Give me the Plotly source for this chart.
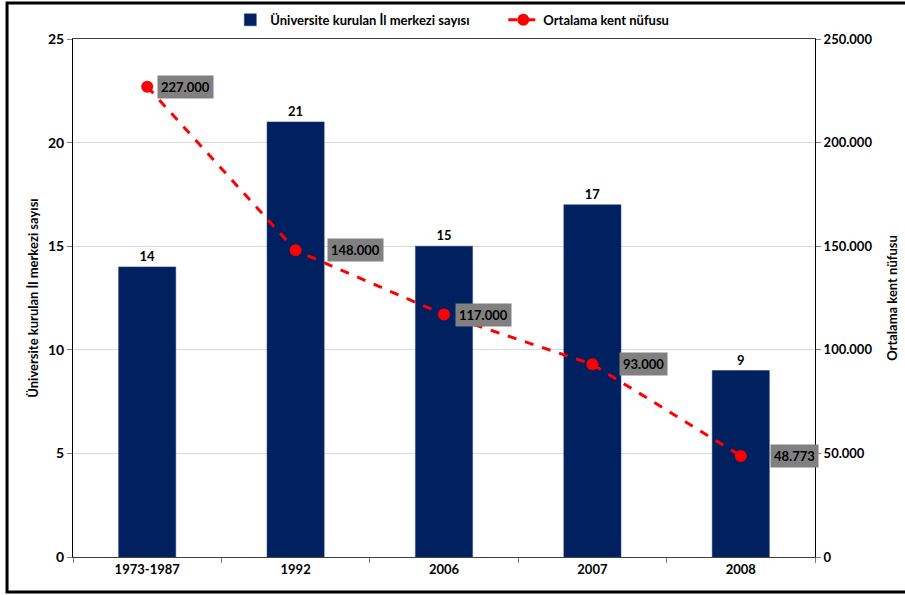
import plotly.graph_objects as go

categories = ["1973-1987", "1992", "2006", "2007", "2008"]
universite_sayisi = [14, 21, 15, 17, 9]
kent_nufusu = [227000, 148000, 117000, 93000, 48773]
kent_labels = ["227.000", "148.000", "117.000", "93.000", "48.773"]

label_shifts = [10, 31, 11, 27, 29]  # pixel offsets of the grey label boxes

FONT = "Lato, 'Open Sans', sans-serif"

fig = go.Figure()
fig.add_trace(go.Bar(
    x=categories, y=universite_sayisi,
    name="Üniversite kurulan İl merkezi sayısı",
    marker=dict(color="#002060", line=dict(color="#1f3a78", width=0.5)),
    text=[f"<b>{v}</b>" for v in universite_sayisi],
    textposition="outside", cliponaxis=False,
    textfont=dict(size=13, color="black", family=FONT),
    yaxis="y",
))
fig.add_trace(go.Scatter(
    x=categories, y=kent_nufusu,
    name="Ortalama kent nüfusu",
    mode="lines+markers",
    line=dict(color="#FF0000", width=3, dash="dash"),
    marker=dict(color="#FF0000", size=12),
    yaxis="y2",
))

for i, (v, t) in enumerate(zip(kent_nufusu, kent_labels)):
    fig.add_annotation(
        x=i, y=v, xref="x", yref="y2", text=f"<b>{t}</b>", showarrow=False,
        xanchor="left", yanchor="middle", xshift=label_shifts[i],
        bgcolor="#808080", borderpad=3,
        font=dict(size=13, color="black", family=FONT),
    )

# outer frame
fig.add_shape(type="rect", xref="paper", yref="paper",
              x0=-0.0889, x1=1.13, y0=-0.0676, y1=1.0695,
              line=dict(color="black", width=3), fillcolor="rgba(0,0,0,0)",
              layer="below")

fig.update_layout(
    width=905, height=595,
    margin=dict(l=73, r=90, t=39, b=38, autoexpand=False),
    paper_bgcolor="white", plot_bgcolor="white",
    separators=",.",
    font=dict(family=FONT, size=13, color="black", weight="bold"),
    bargap=0.615,
    showlegend=True,
    legend=dict(orientation="h", x=0.212, xanchor="left", y=1.008, yanchor="bottom",
                entrywidth=228, entrywidthmode="pixels",
                font=dict(size=13, family=FONT, weight="bold"),
                bgcolor="rgba(0,0,0,0)", traceorder="normal"),
    xaxis=dict(
        type="category", range=[-0.5, 4.5], automargin=False,
        showline=True, linecolor="#404040", linewidth=1, mirror=True,
        ticks="outside", tickson="boundaries", ticklen=5, tickcolor="#808080",
        tickangle=0,
        tickfont=dict(size=13, family=FONT, weight="bold"), showgrid=False,
    ),
    yaxis=dict(
        range=[0, 25], dtick=5, showline=True, linecolor="black", linewidth=1,
        ticks="outside", ticklen=5, tickcolor="#808080", automargin=False,
        showgrid=True, gridcolor="#D9D9D9", gridwidth=1, zeroline=False,
        tickfont=dict(size=14, family=FONT, weight="bold"),
        title=dict(text="Üniversite kurulan İl merkezi sayısı", standoff=6,
                   font=dict(size=13, family=FONT, weight="bold")),
    ),
    yaxis2=dict(
        range=[0, 250000], dtick=50000, overlaying="y", side="right",
        showline=True, linecolor="black", linewidth=1, automargin=False,
        ticks="outside", ticklen=5, tickcolor="#808080", tickformat=",.0f",
        showgrid=False, zeroline=False,
        tickfont=dict(size=13, family=FONT, weight="bold"),
        title=dict(text="Ortalama kent nüfusu", standoff=16,
                   font=dict(size=13, family=FONT, weight="bold")),
    ),
)

fig.write_html("out.html", config={"displayModeBar": False},
               post_script="document.body.style.margin='0';")
